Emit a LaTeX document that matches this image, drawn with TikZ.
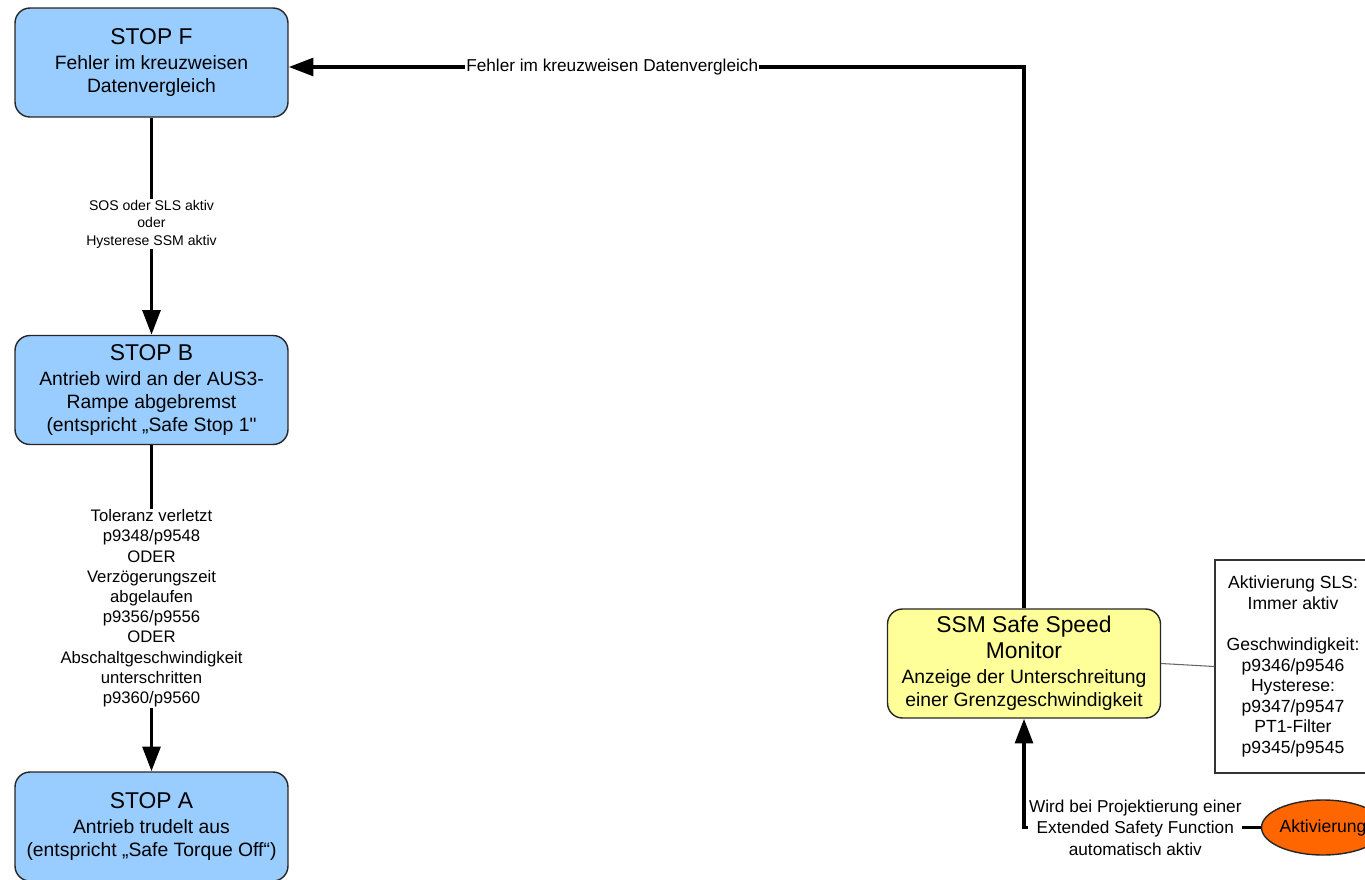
\documentclass[tikz,border=0pt]{standalone}
\usepackage{fontspec}
\setmainfont{Liberation Sans}[Ligatures=TeXOff]
\usetikzlibrary{positioning, shapes, arrows.meta}
\definecolor{stopblue}{RGB}{153,204,255}
\definecolor{ssmyellow}{RGB}{255,255,153}
\definecolor{aktorange}{RGB}{255,102,0}
\newcommand{\titlefont}{\fontsize{13}{15}\selectfont}
\newcommand{\bodyfont}{\fontsize{11}{13}\selectfont}
\tikzset{
  stopbox/.style={draw=black!85, line width=0.8pt, rounded corners=8.5pt, fill=stopblue,
    minimum width=5.46cm, minimum height=2.18cm, align=center, inner sep=1pt,
    font=\bodyfont},
  infobox/.style={draw=black!80, line width=0.8pt, minimum width=3.12cm, minimum height=4.26cm,
    align=center, font=\fontsize{10}{11.7}\selectfont},
  flow/.style={line width=2.2pt, -{Triangle[width=10pt,length=14pt]}},
  lbl/.style={fill=white, align=center, inner sep=0.5pt, font=\fontsize{9.5}{11.5}\selectfont}}

\begin{document}
\begin{tikzpicture}[x=0.02cm, y=-0.02cm]
\useasboundingbox (0,0) rectangle (1365,879);
\clip (0,0) rectangle (1365,879);
% STOP states
\node[stopbox] (stopF) at (151.5,62.5) {\titlefont STOP F\\[1.5pt]Fehler im kreuzweisen\\Datenvergleich};
\node[stopbox] (stopB) at (151.5,390) {\titlefont STOP B\\[1.5pt]Antrieb wird an der AUS3-\\Rampe abgebremst\\(entspricht „Safe Stop 1"};
\node[stopbox] (stopA) at (151.5,826.5) {\titlefont STOP A\\[1.5pt]Antrieb trudelt aus\\(entspricht „Safe Torque Off“)};
% SSM
\node[stopbox, fill=ssmyellow] (ssm) at (1024,663.5) {\titlefont SSM Safe Speed\\[1.5pt]\titlefont Monitor\\[1.5pt]Anzeige der Unterschreitung\\einer Grenzgeschwindigkeit};
\node[infobox] (info) at (1293,666.5) {Aktivierung SLS:\\Immer aktiv\\[11.7pt]Geschwindigkeit:\\p9346/p9546\\Hysterese:\\p9347/p9547\\PT1-Filter\\p9345/p9545};
\node[ellipse, draw=black!85, line width=0.8pt, fill=aktorange, minimum width=2.16cm, minimum height=1.1cm,
  inner sep=0pt, font=\fontsize{10}{12}\selectfont] (akt) at (1323,827.5) {Aktivierung};

\draw[flow] (stopF) -- (stopB) node[lbl, pos=0.49, font=\fontsize{8}{10}\selectfont] {SOS oder SLS aktiv\\oder\\Hysterese SSM aktiv};
\draw[flow] (stopB) -- (stopA) node[lbl, pos=0.5] {Toleranz verletzt\\p9348/p9548\\ODER\\Verzögerungszeit\\abgelaufen\\p9356/p9556\\ODER\\Abschaltgeschwindigkeit\\unterschritten\\p9360/p9560};
\draw[flow] (ssm.north) |- ([yshift=-0.09cm]stopF.east) node[lbl, pos=0.78, font=\fontsize{9.8}{11}\selectfont] {Fehler im kreuzweisen Datenvergleich};
\draw[flow] (akt.west) -- (1024,827.5) node[lbl, pos=0.53, font=\fontsize{9.8}{12.2}\selectfont] {Wird bei Projektierung einer\\Extended Safety Function\\automatisch aktiv} -- (ssm.south);
\draw[black!60, line width=0.6pt] (ssm.east) -- (info.west);
\end{tikzpicture}
\end{document}
